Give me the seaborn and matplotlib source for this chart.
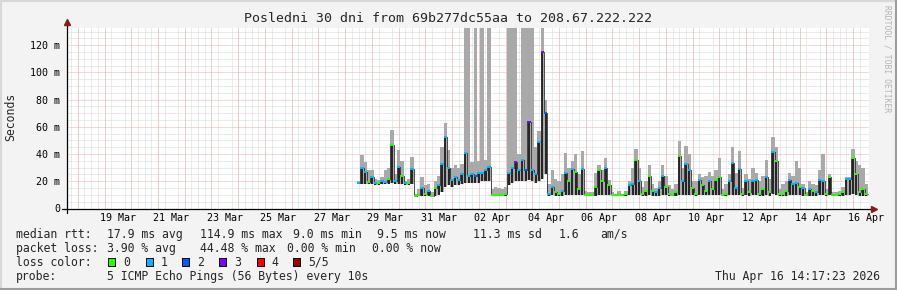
import numpy as np
import pandas as pd
import matplotlib
matplotlib.use("Agg")
import matplotlib.pyplot as plt
import matplotlib.dates as mdates
from matplotlib.patches import Rectangle
from matplotlib.lines import Line2D
import seaborn as sns

# ---------------- data ----------------
median_ms = [
    18.5, 29.6, 27, 19.6, 23, 18.5, 18.5, 20, 19.5, 22,
    46.5, 20, 30.6, 24, 18.5, 19, 29, 9.5, 10, 15,
    11, 13, 9.5, 15, 17, 33, 52.6, 30, 21, 23,
    21, 25, 40.6, 24, 25, 24, 26, 26, 28, 30.6,
    9.9, 10, 10, 10, 10.5, 26, 30, 34, 28, 36,
    28, 63.6, 28, 25, 49, 114.9, 70, 11, 16, 12,
    11, 13, 26, 20, 29, 27, 14, 29, 10, 10,
    10, 16, 28, 20, 30, 17, 10, 9.7, 10, 9.7,
    10.5, 17, 18, 36, 20, 11, 13, 24, 13, 12,
    15, 24, 16, 11, 10, 12, 38.6, 20, 32.5, 28,
    15, 11, 21, 17, 13, 20, 14, 21, 23, 10,
    11, 20, 33.8, 15, 29, 11, 20, 12, 20, 21,
    11, 14, 23, 12, 41.5, 35, 10.5, 11, 13, 21,
    18, 19, 16, 15, 10, 14, 13, 12, 21, 20,
    11, 23, 10, 10, 10.5, 12, 21.5, 21.5, 37.4, 25,
    12, 14, 11,
]
smoke_hi_ms = [
    20, 39, 34, 28, 28, 22, 21, 23, 28, 30,
    58, 25, 43, 35, 20, 22, 38, 11, 14, 23,
    17, 18, 12, 20, 24, 45, 62.6, 43, 30, 32,
    30, 33, 140, 140, 34, 140, 35, 140, 36, 140,
    14, 16, 15, 14, 16, 140, 140, 140, 40, 140,
    140, 140, 140, 45, 57, 140, 80, 18, 28, 22,
    20, 25, 41, 30, 35, 40, 25, 42, 13, 12,
    12, 26, 32, 28, 37, 21, 12, 11, 13, 11,
    13, 20, 30, 44, 30, 16, 20, 32, 18, 15,
    20, 32, 24, 17, 14, 18, 49.7, 30, 46, 40,
    20, 20, 25, 23, 24, 27, 24, 28, 37.4, 14,
    18, 25, 45, 26, 42, 15, 25, 22, 30, 26,
    20, 24, 36, 22, 52.6, 45, 14, 18, 20, 26,
    24, 35, 30, 18, 12, 20, 18, 17, 28, 40,
    14, 25, 12, 12, 13, 16, 23, 23, 43.5, 35,
    32, 30, 18,
]
smoke_lo_ms = [
    18, 18, 18, 18, 18, 17.5, 17.5, 18, 18, 18,
    19, 18, 18, 18, 17.5, 17.5, 18, 9, 9, 9.5,
    9, 9, 9, 9.5, 10, 12, 16, 17, 16, 17,
    17, 18, 19, 19, 19, 19, 19, 20, 20, 20,
    9, 9, 9, 9, 9, 17, 19, 20, 20, 20,
    20, 21, 20, 19, 20, 22, 25, 9.5, 10, 9.5,
    9.5, 9.5, 10, 10, 10, 10, 10, 10, 9.5, 9.5,
    9.5, 9.5, 10, 10, 10, 10, 9.5, 9.3, 9.5, 9.3,
    9.5, 10, 10, 10, 10, 9.5, 9.5, 10, 9.5, 9.5,
    9.5, 10, 10, 9.5, 9.5, 9.5, 10, 10, 10, 10,
    10, 9.5, 10, 10, 10, 10, 10, 10, 10, 9.5,
    9.5, 10, 10, 10, 10, 9.5, 10, 9.5, 10, 10,
    9.5, 9.5, 10, 9.5, 11, 10, 9.5, 9.5, 9.5, 10,
    10, 10, 10, 9.5, 9.5, 9.5, 9.5, 9.5, 10, 10,
    9.5, 10, 9.5, 9.5, 9.5, 9.5, 10, 10, 11, 10,
    9.5, 9.5, 9.5,
]
loss_level = [
    1, 1, 1, 0, 1, 1, 0, 1, 1, 0,
    0, 1, 1, 0, 1, 0, 1, 0, 0, 1,
    0, 1, 0, 0, 1, 1, 1, 1, 1, 1,
    1, 1, 1, 1, 1, 2, 1, 1, 1, 1,
    0, 0, 0, 0, 0, 1, 1, 3, 1, 1,
    2, 3, 1, 1, 1, 3, 2, 1, 1, 0,
    0, 1, 1, 0, 1, 0, 0, 1, 0, 0,
    0, 0, 0, 0, 1, 0, 0, 0, 0, 0,
    0, 1, 1, 0, 1, 0, 0, 0, 0, 1,
    1, 1, 0, 0, 0, 0, 0, 1, 1, 1,
    0, 0, 1, 0, 0, 1, 0, 0, 0, 0,
    0, 1, 1, 1, 1, 0, 1, 0, 1, 1,
    0, 0, 1, 0, 1, 0, 0, 0, 0, 1,
    1, 1, 0, 1, 0, 1, 0, 1, 1, 1,
    0, 0, 0, 0, 0, 0, 1, 1, 0, 0,
    0, 0, 0,
]
loss_labels = ["0", "1", "2", "3", "4", "5/5"]
loss_colors = ["#26ff00", "#00b8ff", "#0059ff", "#7e00ff", "#ff0000", "#a00000"]
y_ticks = [0, 20, 40, 60, 80, 100, 120]

title = "Posledni 30 dni from 69b277dc55aa to 208.67.222.222"
data_start = "2026-03-28 10:30"
graph_end = pd.Timestamp("2026-04-16 14:17:23")

# ---------------- figure ----------------
sns.set_theme(style="white")
plt.rcParams["font.family"] = ["DejaVu Sans Mono", "DejaVu Sans"]

W, H = 897, 290
fig = plt.figure(figsize=(W / 100, H / 100), dpi=100, facecolor="#f3f3f3")
ax = fig.add_axes([67 / W, (H - 208.5) / H, 802 / W, 181 / H])
ax.set_facecolor("white")

times = pd.date_range(data_start, periods=len(median_ms), freq="3h")
x = mdates.date2num(times.to_pydatetime())
step = x[1] - x[0]
x_edges = np.append(x, x[-1] + step)
med = np.array(median_ms, float)
hi = np.array(smoke_hi_ms, float)
lo = np.array(smoke_lo_ms, float)
med_e = np.append(med, med[-1])
hi_e = np.append(hi, hi[-1])
lo_e = np.append(lo, lo[-1])

# smoke (light outer band)
ax.fill_between(x_edges, lo_e, hi_e, step="post", color="#a9a9a9", lw=0, zorder=2)
# dark core of the smoke
ax.bar(x + step / 2, med - lo, bottom=lo, width=step * 0.6, color="#262626", lw=0,
       zorder=3.5)
# median line
df = pd.DataFrame({"t": x_edges, "median": med_e})
sns.lineplot(data=df, x="t", y="median", drawstyle="steps-post", color="#303030",
             lw=0.6, estimator=None, sort=False, ax=ax, zorder=4)
ax.hlines(med, x, x + step, colors=[loss_colors[l] for l in loss_level], lw=1.4, zorder=5)

# limits
x_end = mdates.date2num(graph_end.to_pydatetime())
x_start = x_end - 30
ax.set_xlim(x_start, x_end)
ax.set_ylim(0, 133)

# grid
ax.set_axisbelow(True)
ax.set_yticks(y_ticks)
ax.set_yticklabels(["0" if v == 0 else f"{v} m" for v in y_ticks])
ax.set_yticks(np.arange(0, 135, 5), minor=True)
ax.grid(which="minor", axis="y", color="#d6d6d6", lw=0.72, ls=(0, (1, 1)), zorder=0)
ax.grid(which="major", axis="y", color="#f3b0b0", lw=0.72, ls=(0, (1, 1)), zorder=1)

days = pd.date_range("2026-03-18", "2026-04-16", freq="D")
six_h = pd.date_range("2026-03-17 18:00", "2026-04-16 12:00", freq="6h")
ax.set_xticks(mdates.date2num(six_h.to_pydatetime()), minor=True)
ax.grid(which="minor", axis="x", color="#d6d6d6", lw=0.72, ls=(0, (1, 1)), zorder=0)
for d in mdates.date2num(days.to_pydatetime()):
    ax.axvline(d, color="#f3b0b0", lw=0.72, ls=(0, (1, 1)), zorder=1)
label_days = pd.date_range("2026-03-19 12:00", "2026-04-16 12:00", freq="2D")
ax.set_xticks(mdates.date2num(label_days.to_pydatetime()))
ax.set_xticklabels([d.strftime("%d %b") for d in label_days])
ax.grid(which="major", axis="x", visible=False)

ax.tick_params(which="both", length=0)
ax.tick_params(axis="x", labelsize=7.2, pad=3.5, colors="black")
ax.tick_params(axis="y", labelsize=7.2, pad=5, colors="black")
ax.set_xlabel("")
ax.set_ylabel("")

for s in ["top", "right", "left", "bottom"]:
    ax.spines[s].set_visible(False)
# axes with arrows
ax.add_line(Line2D([-0.006, 1.004], [0, 0], transform=ax.transAxes, color="black",
                   lw=0.9, clip_on=False, zorder=6))
ax.add_line(Line2D([0, 0], [-0.025, 1.02], transform=ax.transAxes, color="black",
                   lw=0.9, clip_on=False, zorder=6))
ax.plot([1.006], [0], marker=">", ms=4, color="#8b1a1a", transform=ax.transAxes,
        clip_on=False, zorder=7)
ax.plot([0], [1.03], marker="^", ms=4, color="#8b1a1a", transform=ax.transAxes,
        clip_on=False, zorder=7)

# texts
def px(xp, yp):
    return xp / W, 1 - yp / H

fig.text(*px(448, 19), title, ha="center", va="center", fontsize=9.5)
fig.text(*px(11, 117), "Seconds", rotation=90, ha="center", va="center", fontsize=8.3)
fig.text(*px(887, 59), "RRDTOOL / TOBI OETIKER", rotation=270, ha="center", va="center",
         fontsize=5.8, color="#b4b4b4")

fs = 8.3
rows = [
    (234.3, [(16, "median rtt:"), (106.7, "17.9 ms avg"), (200, "114.9 ms max"),
             (293.3, "9.0 ms min"), (376.7, "9.5 ms now"), (472.7, "11.3 ms sd"),
             (558.3, "1.6"), (600.7, "am/s")]),
    (248.3, [(16, "packet loss:"), (106.7, "3.90 % avg"), (200, "44.48 % max"),
             (286.7, "0.00 % min"), (371.7, "0.00 % now")]),
    (262.3, [(16, "loss color:")]),
    (276.3, [(16, "probe:"), (106.7, "5 ICMP Echo Pings (56 Bytes) every 10s")]),
]
for yp, items in rows:
    for xp, s in items:
        fig.text(*px(xp, yp), s, ha="left", va="center", fontsize=fs)

box_x = [108.3, 145.7, 182.3, 219.3, 256.7, 293.3]
for bx, c, lab in zip(box_x, loss_colors, loss_labels):
    fig.patches.append(Rectangle(px(bx, 265.7), 7 / W, 7.3 / H, transform=fig.transFigure,
                                 facecolor=c, edgecolor="black", lw=0.7))
    fig.text(*px(bx + 15, 262.3), lab, ha="left", va="center", fontsize=fs)

fig.text(*px(880, 276.3), graph_end.strftime("%a %b %d %H:%M:%S %Y"), ha="right",
         va="center", fontsize=fs)

# canvas border
fig.add_artist(Line2D([0, 1], [1 - 1 / H, 1 - 1 / H], transform=fig.transFigure,
                      color="#d8d8d8", lw=1.5))
fig.add_artist(Line2D([1 / W, 1 / W], [0, 1], transform=fig.transFigure,
                      color="#d8d8d8", lw=1.5))
fig.add_artist(Line2D([0, 1], [1 / H, 1 / H], transform=fig.transFigure,
                      color="#9c9c9c", lw=1.5))
fig.add_artist(Line2D([1 - 1 / W, 1 - 1 / W], [0, 1], transform=fig.transFigure,
                      color="#9c9c9c", lw=1.5))

fig.savefig("out.png", dpi=100, facecolor=fig.get_facecolor())
